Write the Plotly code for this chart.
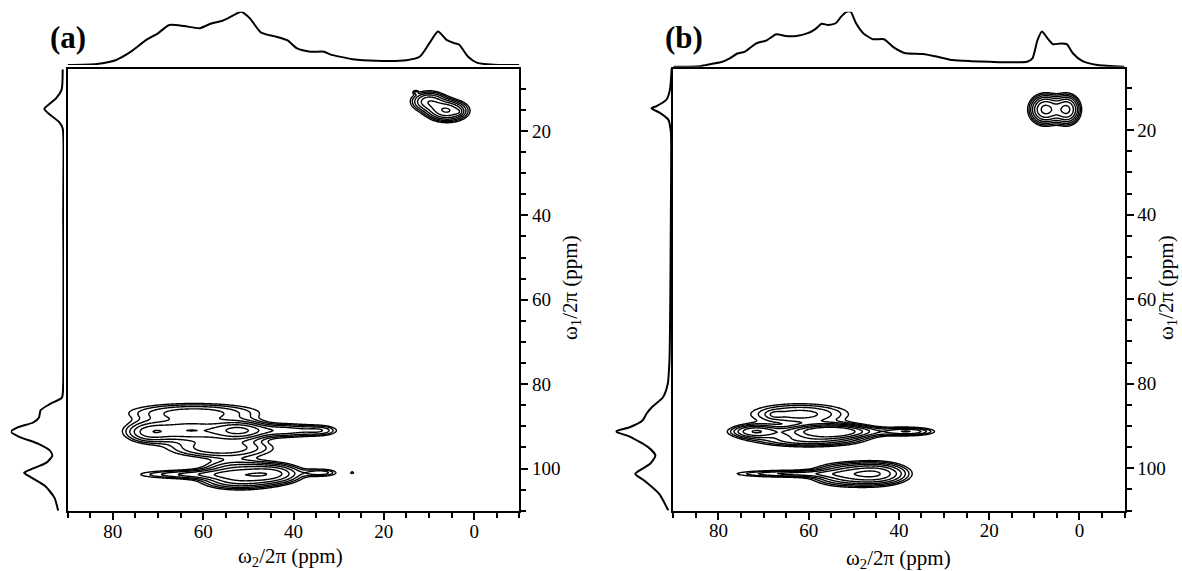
import numpy as np
import plotly.graph_objects as go

W, H = 1182, 571

# ---------------- data ----------------
X_TICKS = [80, 60, 40, 20, 0]
Y_TICKS = [20, 40, 60, 80, 100]
X_RANGE = [90, -10]
Y_RANGE = [110, 5.4]

# top projections (omega2 ppm, relative intensity)
TOP_A_PPM = [90, 83.6, 79.4, 76, 72.6, 70.1, 67.5, 64.2, 60.8, 58.2, 55.7, 53.1, 51.6, 49.7, 47.2,
             43.8, 41.3, 39.2, 36.2, 33.2, 31.9, 26.9, 21.8, 15, 12, 9.9, 8, 6.1, 4.4, 3.3, 1.4,
             -0.7, -5.3, -10]
TOP_A_INT = [0, 0.02, 0.09, 0.25, 0.47, 0.59, 0.75, 0.73, 0.69, 0.78, 0.83, 0.94, 1.0, 0.88, 0.61,
             0.53, 0.46, 0.31, 0.25, 0.25, 0.20, 0.11, 0.08, 0.09, 0.16, 0.41, 0.63, 0.47, 0.41, 0.38, 0.16,
             0.04, 0.0, 0.0]

TOP_B_PPM = [90, 84.1, 81.6, 79.1, 77.5, 75.8, 74.2, 71.7, 69.3, 67.2, 65.1, 62.7, 60.2, 58.6, 57.1,
             55.7, 54, 52.8, 51.6, 50.7, 49.5, 47.9, 45.8, 43.3, 41.3, 38.8, 34.7, 31.4, 28.1, 24,
             19.9, 15.8, 11.6, 10.4, 9.3, 8.3, 7.1, 5.9, 4.2, 2.8, 1.4, -0.7, -4, -10]
TOP_B_INT = [0, 0.01, 0.05, 0.09, 0.15, 0.24, 0.27, 0.42, 0.48, 0.59, 0.56, 0.56, 0.61, 0.68, 0.78,
             0.76, 0.79, 0.91, 1.0, 1.0, 0.79, 0.61, 0.50, 0.50, 0.36, 0.25, 0.23, 0.18, 0.12, 0.10,
             0.09, 0.08, 0.09, 0.15, 0.48, 0.64, 0.52, 0.41, 0.42, 0.41, 0.24, 0.10, 0.03, 0.0]

# left projections (omega1 ppm, relative intensity)
LEFT_A_PPM = [5.4, 10.2, 12.3, 14.3, 14.8, 16, 17.9, 19.4, 22.2, 30, 40, 50, 60, 70, 80, 83.2, 84.7,
              86.2, 87.9, 89.1, 90.3, 91.3, 92.5, 94.2, 95.8, 97, 98.6, 100.2, 101, 102.1, 104.1,
              106.9, 110]
LEFT_A_INT = [0.025, 0.044, 0.15, 0.34, 0.37, 0.28, 0.09, 0.025, 0.01, 0.01, 0.015, 0.01, 0.01, 0.012,
              0.015, 0.04, 0.26, 0.44, 0.47, 0.58, 0.88, 1.0, 0.84, 0.47, 0.26, 0.22, 0.33, 0.62, 0.75,
              0.62, 0.36, 0.18, 0.11]

LEFT_B_PPM = [5.2, 10.3, 12.7, 14.3, 14.8, 15.9, 17.5, 19.8, 22, 40, 60, 74.5, 80, 83.2, 85.5, 87.1,
              88.7, 90.3, 91.3, 92.5, 95, 97, 99, 101.3, 102.9, 106.1, 110]
LEFT_B_INT = [0.0, 0.03, 0.09, 0.27, 0.36, 0.21, 0.06, 0.02, 0.01, 0.015, 0.025, 0.04, 0.07, 0.155,
              0.35, 0.45, 0.52, 0.75, 1.0, 0.75, 0.42, 0.29, 0.39, 0.65, 0.49, 0.22, 0.06]

# 2D peak components: omega2 centre, omega1 centre, widths, amplitude
PEAK_A_X = [52, 63, 42, 34, 72, 62, 56, 45, 53, 62, 34, 52, 27, 6, 10, 3.5, 13]
PEAK_A_Y = [91, 91, 91, 91, 91.5, 86.8, 95.2, 101.2, 100.8, 101.4, 101, 103, 101, 15.2, 13.0, 15.5, 10.8]
PEAK_A_SX = [3.5, 7, 5, 2.5, 3, 9, 7, 4, 4.5, 8, 2.5, 5, 0.4, 2.5, 2.3, 0.6, 0.4]
PEAK_A_SY = [1.3, 1.6, 1.0, 0.8, 1.5, 1.4, 1.4, 1.4, 1.7, 0.7, 0.6, 1.3, 0.3, 1.4, 1.4, 0.5, 0.3]
PEAK_A_AMP = [0.7, 0.55, 0.35, 0.2, 0.3, 0.35, 0.38, 0.6, 0.4, 0.3, 0.25, 0.3, 0.13, 0.8, 0.5, 0.15, 0.15]

PEAK_B_X = [55, 57, 72, 38, 62, 67.5, 60, 45, 52, 64, 7.5, 2.8]
PEAK_B_Y = [91.3, 91.3, 91.3, 91.3, 87.2, 87.3, 93.3, 101.3, 101.5, 101.3, 15.1, 15.1]
PEAK_B_SX = [4.5, 10, 3, 3.5, 7, 1.2, 7, 4, 4.5, 8, 1.9, 1.6]
PEAK_B_SY = [1.0, 0.8, 1.0, 0.6, 1.6, 0.6, 1.0, 1.5, 1.6, 0.55, 1.9, 1.9]
PEAK_B_AMP = [1.0, 0.35, 0.45, 0.35, 0.33, 0.1, 0.4, 0.7, 0.45, 0.3, 0.9, 0.85]

CONTOUR_LEVELS_LOG = dict(start=-1.0, end=-0.1, size=0.15)  # log10 intensity levels

FONT = "Liberation Serif"

# ---------------- helpers ----------------
gx = np.arange(-10, 90.01, 0.25)
gy = np.arange(5.0, 110.01, 0.25)
GX, GY = np.meshgrid(gx, gy)


def spectrum(xs, ys, sxs, sys_, amps):
    z = np.zeros_like(GX)
    for x0, y0, sx, sy, a in zip(xs, ys, sxs, sys_, amps):
        z += a * np.exp(-((GX - x0) ** 2) / (2 * sx ** 2) - ((GY - y0) ** 2) / (2 * sy ** 2))
    return np.log10(z + 1e-6)


def px(x):
    return x / W


def py(y):
    return 1 - y / H


fig = go.Figure()

panels = [
    dict(name="a", peaks=(PEAK_A_X, PEAK_A_Y, PEAK_A_SX, PEAK_A_SY, PEAK_A_AMP),
         top=(TOP_A_PPM, TOP_A_INT), left=(LEFT_A_PPM, LEFT_A_INT),
         box=(67.7, 519.3, 69.3, 510.7), top_dom=(65.0, 11.7), left_dom=(10.8, 64.0),
         label_x=68, xt=(290, 557), yt=(571, 288)),
    dict(name="b", peaks=(PEAK_B_X, PEAK_B_Y, PEAK_B_SX, PEAK_B_SY, PEAK_B_AMP),
         top=(TOP_B_PPM, TOP_B_INT), left=(LEFT_B_PPM, LEFT_B_INT),
         box=(673.3, 1124.5, 68.5, 510.5), top_dom=(66.7, 11.7), left_dom=(615.6, 671.7),
         label_x=684, xt=(898, 559), yt=(1167, 288)),
]

layout = dict(width=W, height=H, margin=dict(l=0, r=0, t=0, b=0),
              paper_bgcolor="white", plot_bgcolor="white", showlegend=False,
              annotations=[])

for i, p in enumerate(panels):
    k = 3 * i  # axis index offset
    xm, ym = f"x{k + 1 if k else ''}", f"y{k + 1 if k else ''}"
    xt, yt = f"x{k + 2}", f"y{k + 2}"
    xl, yl = f"x{k + 3}", f"y{k + 3}"
    L, R, T, B = p["box"]

    z = spectrum(*p["peaks"])
    fig.add_trace(go.Contour(x=gx, y=gy, z=z, xaxis=xm, yaxis=ym,
                             contours=dict(coloring="none", **CONTOUR_LEVELS_LOG),
                             line=dict(color="black", width=1.4), showscale=False,
                             hoverinfo="skip"))
    fig.add_trace(go.Scatter(x=p["top"][0], y=p["top"][1], xaxis=xt, yaxis=yt, mode="lines",
                             line=dict(color="black", width=2, shape="spline", smoothing=0.6)))
    fig.add_trace(go.Scatter(x=p["left"][1], y=p["left"][0], xaxis=xl, yaxis=yl, mode="lines",
                             line=dict(color="black", width=2, shape="spline", smoothing=0.6)))

    axkey = lambda s: ("xaxis" if s[0] == "x" else "yaxis") + s[1:]
    layout[axkey(xm)] = dict(domain=[px(L), px(R)], range=X_RANGE, anchor=ym,
                             tickvals=X_TICKS, ticks="outside", ticklen=7, tickwidth=2,
                             tickcolor="black", showline=True, linewidth=2, linecolor="black",
                             mirror=True, showgrid=False, zeroline=False, ticklabelstandoff=-5,
                             minor=dict(dtick=5, tick0=0, ticks="outside", ticklen=5,
                                        tickwidth=2, tickcolor="black"),
                             tickfont=dict(family=FONT, size=19, color="black"))
    layout[axkey(ym)] = dict(domain=[py(B), py(T)], range=Y_RANGE, anchor=xm, side="right",
                             tickvals=Y_TICKS, ticks="outside", ticklen=7, tickwidth=2,
                             tickcolor="black", showline=True, linewidth=2, linecolor="black",
                             mirror=True, showgrid=False, zeroline=False,
                             minor=dict(dtick=5, tick0=0, ticks="outside", ticklen=5,
                                        tickwidth=2, tickcolor="black"),
                             tickfont=dict(family=FONT, size=19, color="black"))
    layout[axkey(xt)] = dict(domain=[px(L), px(R)], range=X_RANGE, anchor=yt, visible=False)
    layout[axkey(yt)] = dict(domain=[py(p["top_dom"][0]), py(p["top_dom"][1])], range=[0, 1],
                             anchor=xt, visible=False)
    layout[axkey(xl)] = dict(domain=[px(p["left_dom"][0]), px(p["left_dom"][1])],
                             range=[1, 0], anchor=yl, visible=False)
    layout[axkey(yl)] = dict(domain=[py(B), py(T)], range=Y_RANGE, anchor=xl, visible=False)

    layout["annotations"] += [
        dict(text=f"<b>({p['name']})</b>", x=px(p["label_x"]), y=py(37), xref="paper",
             yref="paper", xanchor="center", yanchor="middle", showarrow=False,
             font=dict(family=FONT, size=31, color="black")),
        dict(text="ω<sub>2</sub>/2π (ppm)", x=px(p["xt"][0]), y=py(p["xt"][1]), xref="paper",
             yref="paper", xanchor="center", yanchor="middle", showarrow=False,
             font=dict(family=FONT, size=21, color="black")),
        dict(text="ω<sub>1</sub>/2π (ppm)", x=px(p["yt"][0]), y=py(p["yt"][1]), xref="paper",
             yref="paper", xanchor="center", yanchor="middle", showarrow=False, textangle=-90,
             font=dict(family=FONT, size=21, color="black")),
    ]

fig.update_layout(**layout)
fig.write_html("out.html", config={"displayModeBar": False},
               post_script="document.body.style.margin='0';document.body.style.overflow='hidden';")
